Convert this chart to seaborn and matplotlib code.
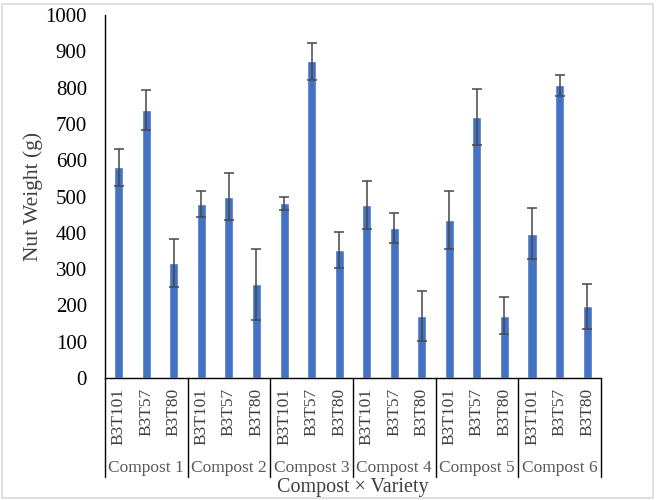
import pandas as pd
import matplotlib.pyplot as plt
import seaborn as sns
from matplotlib.patches import Rectangle

# data
composts = ["Compost 1", "Compost 2", "Compost 3", "Compost 4", "Compost 5", "Compost 6"]
varieties = ["B3T101", "B3T57", "B3T80"]
weight = [581, 738, 317,
          480, 500, 258,
          482, 872, 353,
          476, 414, 172,
          435, 718, 172,
          397, 806, 198]
err = [51, 55, 66,
       36, 65, 97,
       18, 51, 49,
       66, 41, 69,
       81, 77, 50,
       70, 29, 62]

df = pd.DataFrame({
    "compost": [c for c in composts for v in varieties],
    "variety": varieties * len(composts),
    "weight": weight,
    "err": err,
})
df["bar"] = [f"{c}|{v}" for c, v in zip(df["compost"], df["variety"])]

sns.set_style("white")
plt.rcParams["font.family"] = ["Liberation Serif", "DejaVu Serif"]

fig = plt.figure(figsize=(6.56, 5), dpi=100)
ax = fig.add_axes([0.160, 0.244, 0.756, 0.726])

sns.barplot(data=df, x="bar", y="weight", color="#4472C4", saturation=1,
            width=0.33, errorbar=None, ax=ax)
ax.errorbar(range(len(df)), df["weight"], yerr=df["err"], fmt="none",
            ecolor="#474747", elinewidth=1.1, capsize=3.5, capthick=1.1)

ax.set_ylim(0, 1000)
ax.set_xlim(-0.5, len(df) - 0.5)
ax.set_yticks(range(0, 1001, 100))
ax.tick_params(axis="y", length=0, pad=13, labelsize=15, labelcolor="black")
ax.set_xticks(range(len(df)))
ax.set_xticklabels(df["variety"], rotation=90, fontsize=12.5, color="#404040")
ax.tick_params(axis="x", length=0, pad=7)

sns.despine(ax=ax)
for s in ["left", "bottom"]:
    ax.spines[s].set_color("black")
    ax.spines[s].set_linewidth(1.0)

ax.set_xlabel("")
ax.set_ylabel("Nut Weight (g)", fontsize=15.5, color="#404040", labelpad=2)

# group separators and labels below the axis
trans = ax.get_xaxis_transform()
n = len(varieties)
for i, c in enumerate(composts):
    ax.plot([i * n - 0.5, i * n - 0.5], [0, -0.273], transform=trans,
            color="black", lw=1.0, clip_on=False)
    ax.text(i * n + 1, -0.248, c, transform=trans, ha="center", va="center",
            fontsize=12.5, color="#595959")
ax.plot([len(df) - 0.5, len(df) - 0.5], [0, -0.273], transform=trans,
        color="black", lw=1.0, clip_on=False)
ax.text(0.5, -0.302, "Compost \u00d7 Variety", transform=ax.transAxes,
        ha="center", va="center", fontsize=14.5, color="#404040")

# light frame around the chart
fig.patches.append(Rectangle((0.003, 0.004), 0.992, 0.989, transform=fig.transFigure,
                             fill=False, edgecolor="#d9d9d9", lw=1.2))

fig.savefig("out.png", dpi=100)
